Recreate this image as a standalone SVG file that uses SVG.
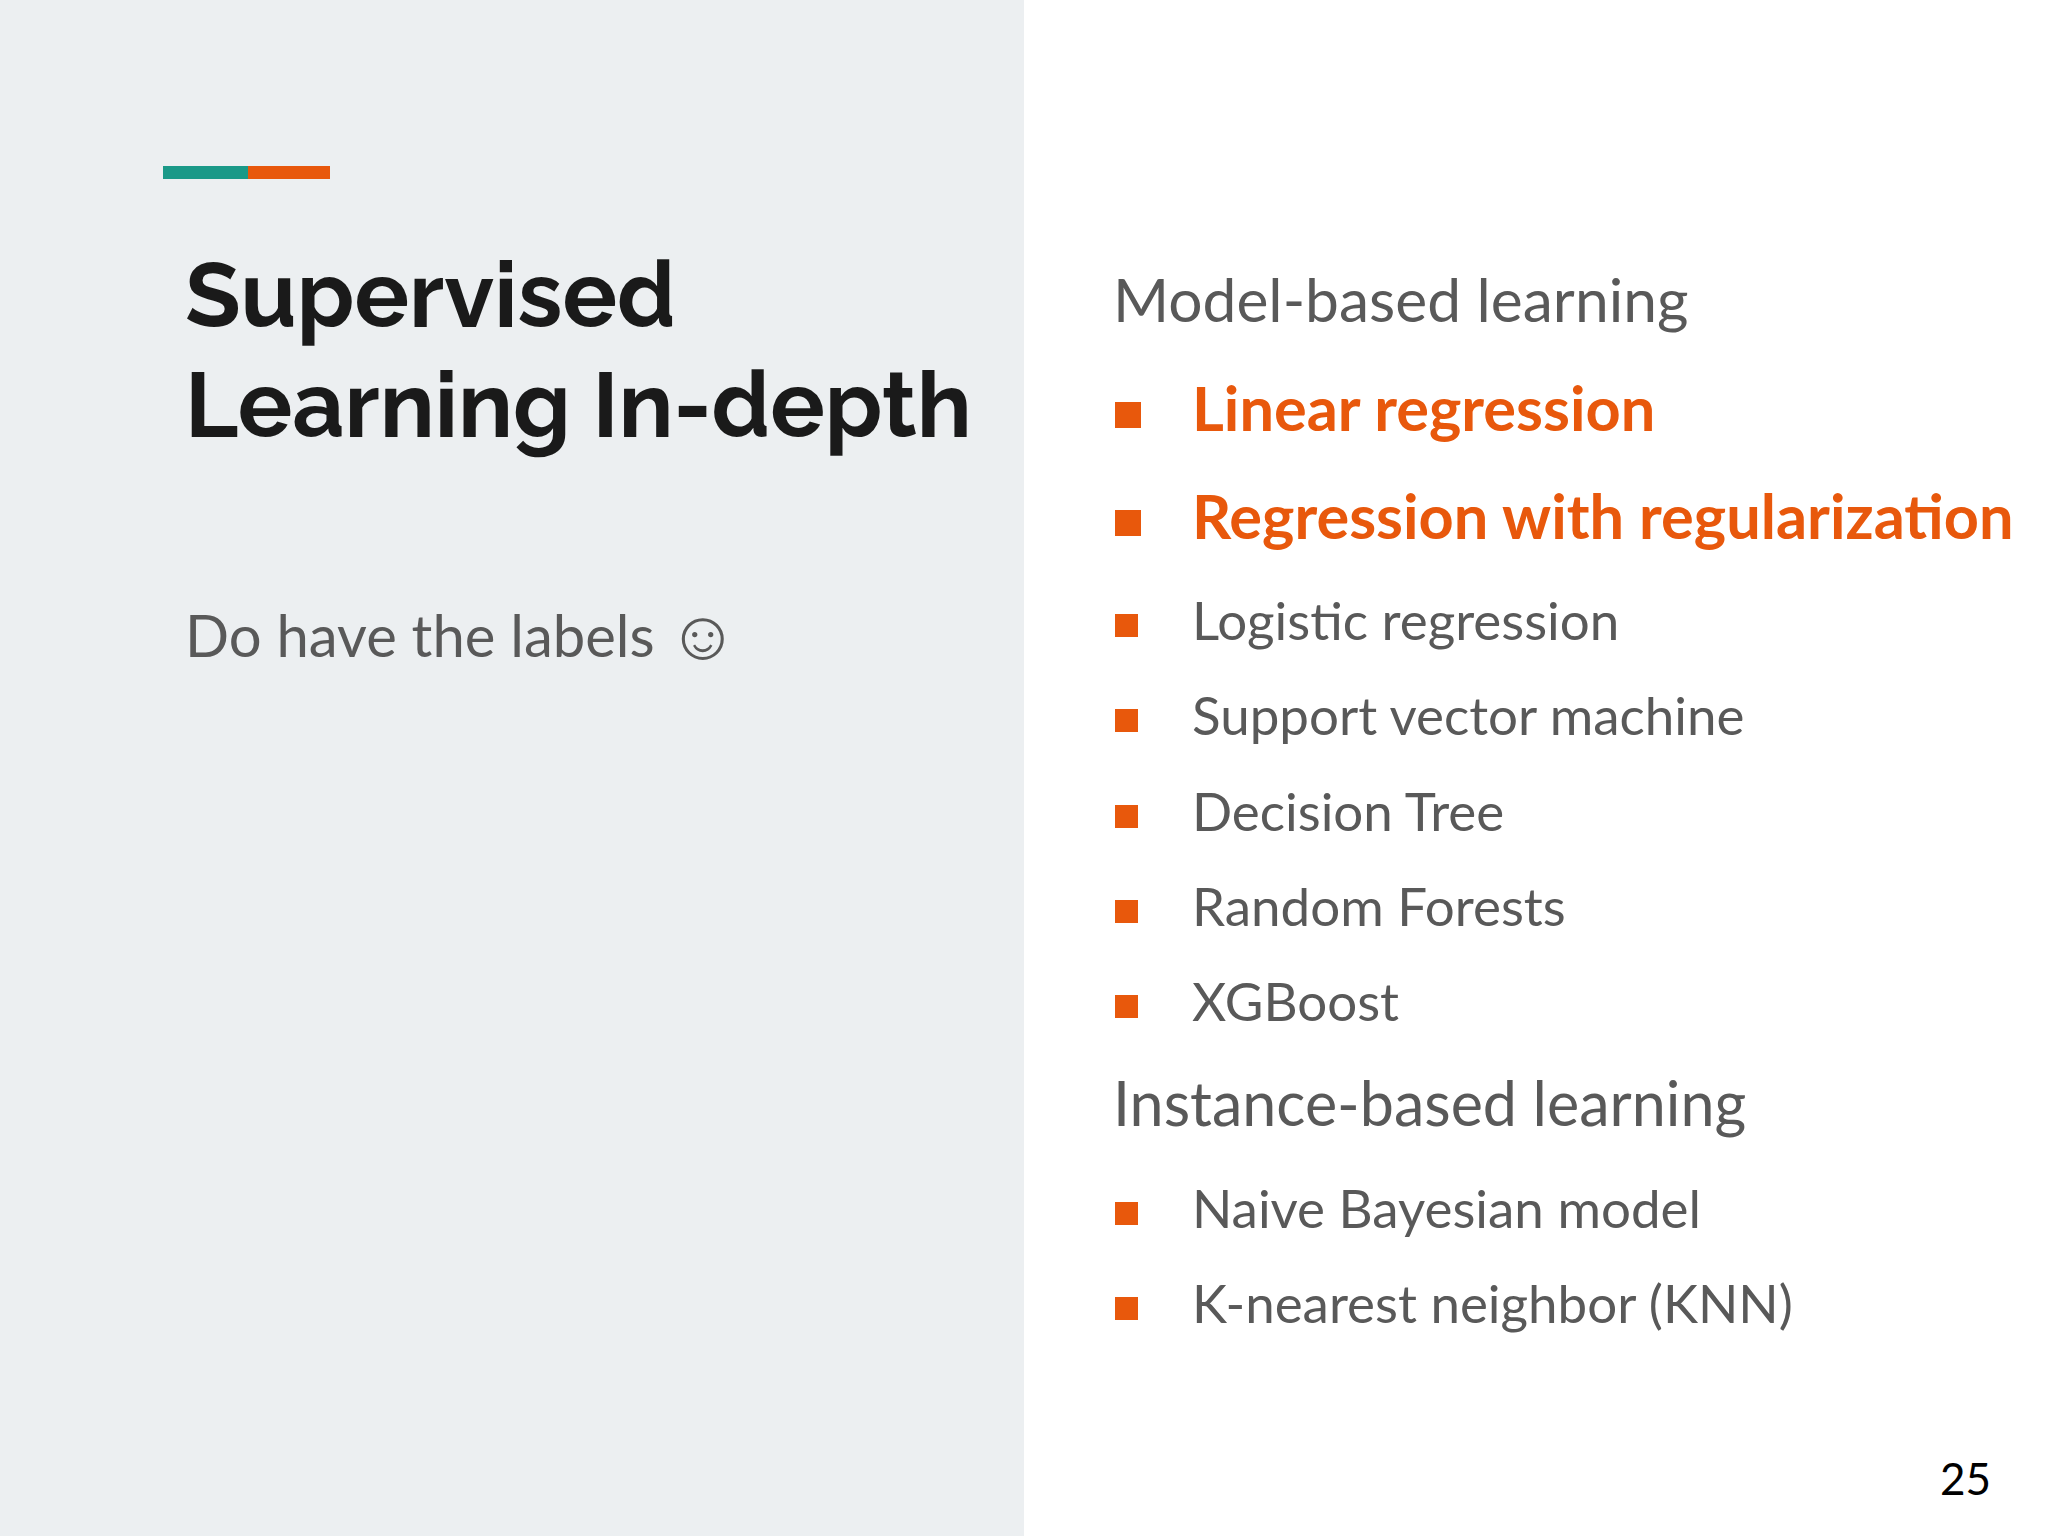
<svg xmlns="http://www.w3.org/2000/svg" width="2048" height="1536" viewBox="0 0 2048 1536">
<style>
.t{font-family:Lato,"Liberation Sans",sans-serif;fill:#595959}
.h{font-family:Raleway,Lato,"Liberation Sans",sans-serif;font-weight:bold;fill:#1a1a1a;font-size:91px}
.o{fill:#e8580c;font-weight:bold;font-size:61.3px}
.i{font-size:52.9px}
.b{fill:#e8580c}
</style>
<rect width="2048" height="1536" fill="#ffffff"/>
<rect width="1024" height="1536" fill="#eceff1"/>
<g id="accent"><rect x="163" y="166" width="85" height="13" fill="#1a9988"/><rect x="248" y="166" width="82" height="13" fill="#e8580c"/></g>
<g id="title"><text class="h" x="185" y="327">Supervised</text><text class="h" x="185" y="437">Learning In-depth</text></g>
<text id="sub" class="t" x="185" y="657" font-size="58">Do have the labels</text>
<text id="smiley" class="t" x="667" y="659" font-size="70">☺</text>
<g id="list">
<text class="t" x="1113" y="322" font-size="60.5">Model-based learning</text>
<rect class="b" x="1115" y="402" width="26" height="26"/><text class="t o" x="1192" y="431">Linear regression</text>
<rect class="b" x="1115" y="510" width="26" height="26"/><text class="t o" x="1192" y="539">Regression with regularization</text>
<rect class="b" x="1115" y="614" width="23" height="23"/><text class="t i" x="1192" y="640">Logistic regression</text>
<rect class="b" x="1115" y="709" width="23" height="23"/><text class="t i" x="1192" y="735">Support vector machine</text>
<rect class="b" x="1115" y="805" width="23" height="23"/><text class="t i" x="1192" y="831">Decision Tree</text>
<rect class="b" x="1115" y="900" width="23" height="23"/><text class="t i" x="1192" y="926">Random Forests</text>
<rect class="b" x="1115" y="995" width="23" height="23"/><text class="t i" x="1192" y="1021">XGBoost</text>
<text class="t" x="1113" y="1126" font-size="61">Instance-based learning</text>
<rect class="b" x="1115" y="1202" width="23" height="23"/><text class="t i" x="1192" y="1228">Naive Bayesian model</text>
<rect class="b" x="1115" y="1297" width="23" height="23"/><text class="t i" x="1192" y="1323">K-nearest neighbor (KNN)</text>
</g>
<text id="page" x="1940" y="1495" font-family="Lato,'Liberation Sans',sans-serif" font-size="44" fill="#000">25</text>
</svg>
